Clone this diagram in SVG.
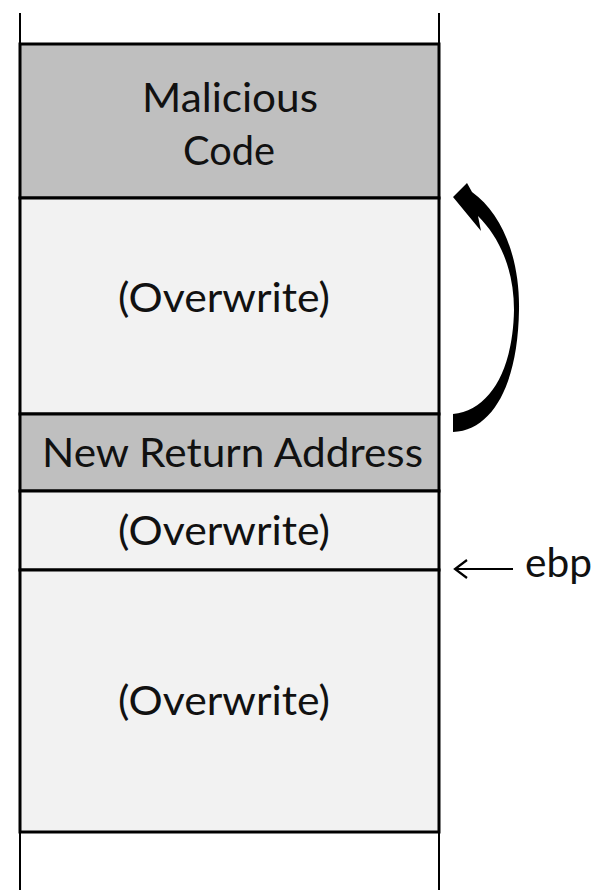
<svg xmlns="http://www.w3.org/2000/svg" width="599" height="890" viewBox="0 0 599 890">
  <style>
    .rail { stroke: #000; stroke-width: 2; fill: none; }
    .cell { stroke: #000; stroke-width: 3; }
    .dark { fill: #bfbfbf; }
    .light { fill: #f2f2f2; }
    .lbl { font-family: Lato, "Open Sans", "Liberation Sans", sans-serif; font-size: 40px; fill: #111; }
  </style>

  <!-- stack walls -->
  <g id="stack-walls">
    <line class="rail" x1="20" y1="13" x2="20" y2="890"/>
    <line class="rail" x1="439" y1="13" x2="439" y2="890"/>
  </g>

  <g id="malicious-code">
    <rect class="cell dark" x="20" y="44" width="419" height="154"/>
    <text class="lbl" x="142" y="112" textLength="176" lengthAdjust="spacingAndGlyphs">Malicious</text>
    <text class="lbl" x="183" y="165" textLength="92" lengthAdjust="spacingAndGlyphs">Code</text>
  </g>

  <g id="overwrite-1">
    <rect class="cell light" x="20" y="198" width="419" height="216"/>
    <text class="lbl" x="118" y="312" textLength="212" lengthAdjust="spacingAndGlyphs">(Overwrite)</text>
  </g>

  <g id="return-address">
    <rect class="cell dark" x="20" y="414" width="419" height="77"/>
    <text class="lbl" x="42" y="467" textLength="381" lengthAdjust="spacingAndGlyphs">New Return Address</text>
  </g>

  <g id="overwrite-2">
    <rect class="cell light" x="20" y="491" width="419" height="79"/>
    <text class="lbl" x="118" y="545" textLength="212" lengthAdjust="spacingAndGlyphs">(Overwrite)</text>
  </g>

  <g id="overwrite-3">
    <rect class="cell light" x="20" y="570" width="419" height="262"/>
    <text class="lbl" x="118" y="715" textLength="212" lengthAdjust="spacingAndGlyphs">(Overwrite)</text>
  </g>

  <g id="connectors">
    <!-- curved jump from return address up to the injected code -->
    <path fill="#000" d="M453,197 L467,183 L472,192 C503,214 520,260 519,310 C518,380 495,430 453,432 L453,414 C490,410 513,370 514,310 C514,270 500,238 478,216 L481,231 Z"/>
    <!-- frame pointer marker -->
    <path d="M513,569 L455,569 M467,560 L455,569 L467,578" fill="none" stroke="#000" stroke-width="2.2" stroke-linejoin="miter"/>
    <text class="lbl" x="525" y="577" textLength="67" lengthAdjust="spacingAndGlyphs">ebp</text>
  </g>
</svg>
